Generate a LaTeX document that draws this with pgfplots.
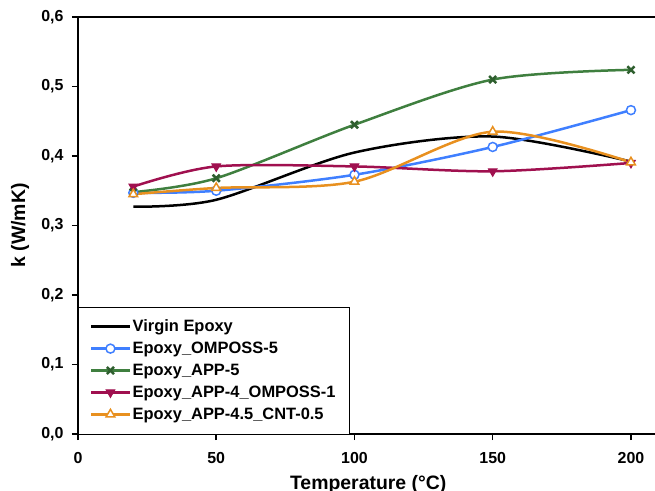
\documentclass[border=0pt]{standalone}
\usepackage{fontspec}
\setmainfont{Liberation Sans}
\usepackage{pgfplots}
\pgfplotsset{compat=1.18}
\definecolor{cblue}{HTML}{3F7FFF}
\definecolor{cgreen}{HTML}{3F7F3F}
\definecolor{cgreenm}{HTML}{2F5F2F}
\definecolor{ccrim}{HTML}{A0104F}
\definecolor{corange}{HTML}{E8901F}
\begin{document}
\begin{tikzpicture}
\begin{axis}[name=ax, at={(0,0)}, anchor=south west,
  scale only axis, width=577bp, height=417bp,
  xmin=0, xmax=208.7, ymin=0, ymax=0.6,
  axis x line*=box, axis y line*=left,
  axis line style={line width=2.5bp},
  xtick={0,50,100,150,200}, ytick={0,0.1,0.2,0.3,0.4,0.5,0.6},
  xtick pos=bottom, ytick pos=left, tick align=outside,
  major tick length=6bp,
  every tick/.style={line width=1.5bp, black},
  /pgf/number format/assume math mode=true,
  tick label style={font=\bfseries\fontsize{16}{19}\selectfont},
  y tick label style={xshift=-5bp, /pgf/number format/.cd, fixed, fixed zerofill, precision=1, use comma, /tikz/.cd},
  x tick label style={yshift=-9bp},
  xlabel={Temperature (°C)}, ylabel={k (W/mK)},
  every axis x label/.style={at={(axis description cs:0.503,-0.134)}, anchor=base, font=\bfseries\fontsize{19.5}{23}\selectfont},
  every axis y label/.style={at={(axis description cs:-0.1005,0.5)}, rotate=90, anchor=center, font=\bfseries\fontsize{19.5}{23}\selectfont},
  legend style={at={(rel axis cs:0,0)}, anchor=south west, draw=black,
    font=\bfseries\fontsize{16.5}{19}\selectfont, row sep=5bp, inner xsep=12bp, inner ysep=11bp},
  legend cell align=left,
  legend image code/.code={\draw[mark repeat=2,mark phase=2, line width=2.5bp] plot coordinates {(0bp,0bp) (19bp,0bp) (38bp,0bp)};},
  clip=false,
]
\addplot[black, line width=2.5bp, smooth] coordinates {(20,0.327) (50,0.337) (100,0.405) (150,0.428) (200,0.392)};
\addlegendentry{Virgin Epoxy}
\addplot[cblue, line width=2.5bp, smooth, mark=*, mark size=4.5bp, mark options={fill=white, line width=1.5bp}] coordinates {(20,0.347) (50,0.350) (100,0.373) (150,0.413) (200,0.466)};
\addlegendentry{Epoxy\_OMPOSS-5}
\addplot[cgreen, line width=2.5bp, smooth, mark=x, mark size=5bp, mark options={cgreenm, line width=2.5bp}] coordinates {(20,0.348) (50,0.368) (100,0.445) (150,0.510) (200,0.524)};
\addlegendentry{Epoxy\_APP-5}
\addplot[ccrim, line width=2.5bp, smooth, mark=triangle*, mark size=5bp, mark options={rotate=180, line width=1bp}] coordinates {(20,0.356) (50,0.385) (100,0.385) (150,0.378) (200,0.390)};
\addlegendentry{Epoxy\_APP-4\_OMPOSS-1}
\addplot[corange, line width=2.5bp, smooth, mark=triangle*, mark size=5bp, mark options={fill=white, line width=1.5bp}] coordinates {(20,0.345) (50,0.354) (100,0.363) (150,0.435) (200,0.391)};
\addlegendentry{Epoxy\_APP-4.5\_CNT-0.5}
\end{axis}
\pgfresetboundingbox
\path[use as bounding box] ([xshift=-78bp,yshift=-57bp]ax.south west) rectangle ([yshift=17bp]ax.north east);
\end{tikzpicture}
\end{document}
